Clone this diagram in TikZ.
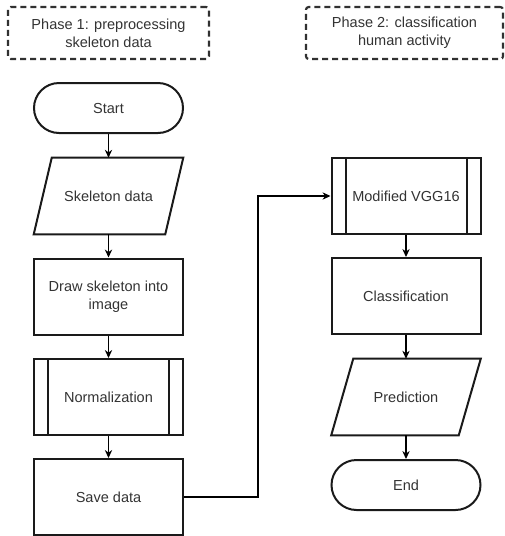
\documentclass[tikz,border=0pt]{standalone}
\usepackage{fontspec}
\setmainfont{Liberation Sans}
\usetikzlibrary{arrows.meta,calc}
\definecolor{txt}{HTML}{333333}
\definecolor{ln}{HTML}{1A1A1A}
\begin{document}
\begin{tikzpicture}[x=0.75pt,y=-0.75pt,
  every node/.style={font=\fontsize{10.9}{13.5}\selectfont, text=txt, align=center, inner sep=0pt},
  boxst/.style={draw=ln, line width=1.5pt, minimum width=111.75pt, minimum height=57pt},
  termst/.style={draw=ln, line width=1.5pt, minimum width=111.75pt, minimum height=37.5pt, rounded corners=18.75pt},
  shapeonly/.style={minimum width=111.75pt, minimum height=57pt},
  edgeline/.style={draw=ln, line width=1.5pt, line join=miter},
  phasest/.style={draw=ln!90!white, line width=1.6pt, dash pattern=on 4.5pt off 3pt, rounded corners=2pt, minimum height=39pt},
  conn/.style={draw=black, line width=0.8pt, -{Stealth[length=6pt,width=5.5pt]}}
]
\useasboundingbox (0,0) rectangle (505,536);
% phase labels
\node[phasest, minimum width=150.75pt] (ph1) at (108.5,33) {Phase 1: preprocessing\\skeleton data};
\node[phasest, minimum width=147.75pt] (ph2) at (404.5,33) {Phase 2: classification\\human activity};
% left column
\node[termst] (start) at (108.5,108) {Start};
\node[shapeonly] (skel) at (108.5,196) {Skeleton data};
\draw[edgeline] ($(skel.north west)+(18,0)$) -- (skel.north east) -- ($(skel.south east)-(18,0)$) -- (skel.south west) -- cycle;
\node[boxst] (drawimg) at (108.5,296.5) {Draw skeleton into\\image};
\node[boxst] (norm) at (108.5,397) {Normalization};
\draw[edgeline] ($(norm.north west)+(15,0)$) -- ($(norm.south west)+(15,0)$);
\draw[edgeline] ($(norm.north east)-(15,0)$) -- ($(norm.south east)-(15,0)$);
\node[boxst] (save) at (108.5,497) {Save data};
% right column
\node[boxst] (vgg) at (406,196) {Modified VGG16};
\draw[edgeline] ($(vgg.north west)+(15,0)$) -- ($(vgg.south west)+(15,0)$);
\draw[edgeline] ($(vgg.north east)-(15,0)$) -- ($(vgg.south east)-(15,0)$);
\node[boxst] (cls) at (406,296) {Classification};
\node[shapeonly] (pred) at (406,397) {Prediction};
\draw[edgeline] ($(pred.north west)+(22,0)$) -- (pred.north east) -- ($(pred.south east)-(22,0)$) -- (pred.south west) -- cycle;
\node[termst] (end) at (406,485) {End};
% connectors
\draw[conn] (start) -- (skel);
\draw[conn] (skel) -- (drawimg);
\draw[conn] (drawimg) -- (norm);
\draw[conn] (norm) -- (save);
\coordinate (bendA) at (258,497);
\coordinate (bendB) at (258,196);
\draw[conn] (save.east) -- (bendA) -- (bendB) -- (vgg.west);
\draw[conn] (vgg) -- (cls);
\draw[conn] (cls) -- (pred);
\draw[conn] (pred) -- (end);
\end{tikzpicture}
\end{document}
